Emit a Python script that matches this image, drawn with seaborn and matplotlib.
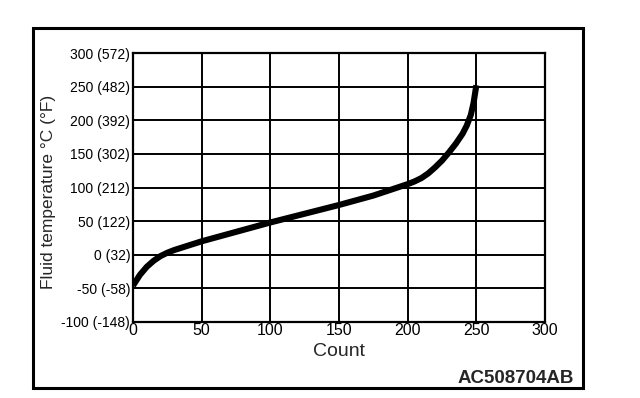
import matplotlib
matplotlib.use("Agg")
import matplotlib.pyplot as plt
import seaborn as sns
import pandas as pd
from matplotlib.patches import Rectangle

counts = [0, 5, 10, 15, 20, 25, 30, 40, 50, 75, 100, 125, 150, 175, 200, 205, 210,
          215, 220, 225, 230, 235, 240, 243, 246, 248, 250]
temps = [-46, -30, -18, -9, -2, 3, 7, 13.5, 20, 34, 48, 61, 74, 88, 105, 109, 114,
         121, 130, 140, 152, 165, 180, 192, 208, 226, 252]
x_ticks = [0, 50, 100, 150, 200, 250, 300]
y_ticks = [-100, -50, 0, 50, 100, 150, 200, 250, 300]
y_labels = ["-100 (-148)", "-50 (-58)", "0 (32)", "50 (122)", "100 (212)",
            "150 (302)", "200 (392)", "250 (482)", "300 (572)"]

sns.set_style("white")
plt.rcParams['font.family'] = ['Liberation Sans', 'DejaVu Sans']

df = pd.DataFrame({"Count": counts, "Temp": temps})

fig = plt.figure(figsize=(6.4, 3.98), dpi=100)
ax = fig.add_axes([133/640, 1-322/398, (545-133)/640, (322-53)/398])
sns.lineplot(data=df, x="Count", y="Temp", ax=ax, color="black", linewidth=4.4,
             solid_capstyle="butt", solid_joinstyle="round", zorder=5)

ax.set_xlim(0, 300)
ax.set_ylim(-100, 300)
ax.set_xticks(x_ticks)
ax.set_xticklabels([str(t) for t in x_ticks], fontsize=11.5)
ax.set_yticks(y_ticks)
ax.set_yticklabels(y_labels, fontsize=10)
ax.grid(True, color="black", linewidth=1.4)
for s in ax.spines.values():
    s.set_color("black")
    s.set_linewidth(1.6)
    s.set_visible(True)
ax.tick_params(axis="x", length=0, pad=1, colors="black")
ax.tick_params(axis="y", length=0, pad=2, colors="black")
ax.set_xlabel("Count", fontsize=14, labelpad=3)
ax.set_ylabel("Fluid temperature °C (°F)", fontsize=12.5)
ax.yaxis.set_label_coords(56/640, 1-192/398, transform=fig.transFigure)

fig.patches.append(Rectangle((33/640, 1-388/398), (583-33)/640, (388-28)/398,
                             transform=fig.transFigure, fill=False,
                             edgecolor="black", linewidth=2.2))
fig.text(574/640, 1-383/398, "AC508704AB", ha="right", va="baseline",
         fontsize=13.5, fontweight="bold")

fig.savefig("out.png", dpi=100)
